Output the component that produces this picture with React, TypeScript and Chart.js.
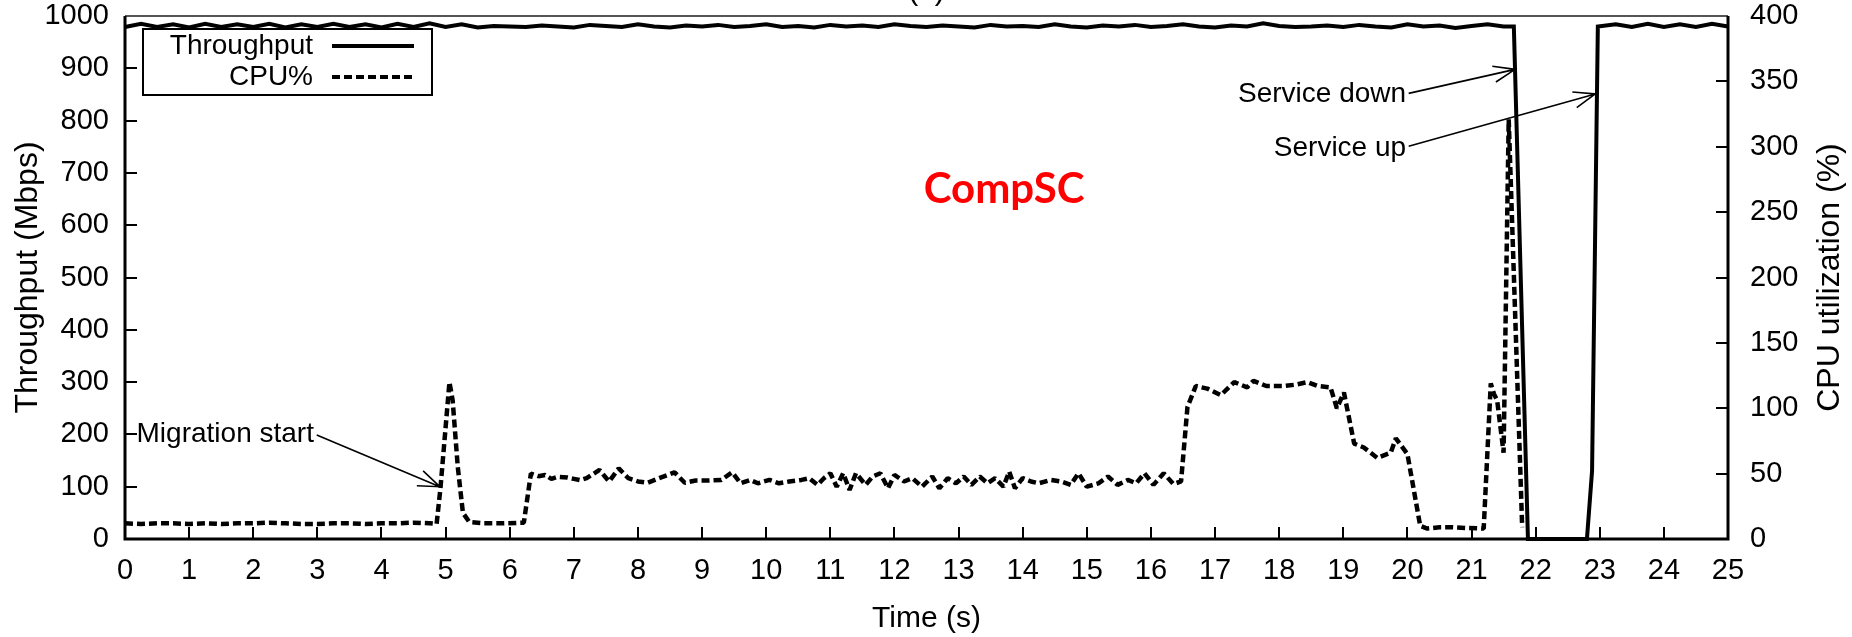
import React, { useEffect, useRef } from 'react';
import { Chart, registerables } from 'chart.js';

Chart.register(...registerables);

// ---- Data ----
const xTickValues = [0,1,2,3,4,5,6,7,8,9,10,11,12,13,14,15,16,17,18,19,20,21,22,23,24,25];
const yTickValues = [0,100,200,300,400,500,600,700,800,900,1000];
const y2TickValues = [0,50,100,150,200,250,300,350,400];

const throughputTimes = [
  0,0.25,0.5,0.75,1,1.25,1.5,1.75,
  2,2.25,2.5,2.75,3,3.25,3.5,3.75,
  4,4.25,4.5,4.75,5,5.25,5.5,5.75,
  6,6.25,6.5,6.75,7,7.25,7.5,7.75,
  8,8.25,8.5,8.75,9,9.25,9.5,9.75,
  10,10.25,10.5,10.75,11,11.25,11.5,11.75,
  12,12.25,12.5,12.75,13,13.25,13.5,13.75,
  14,14.25,14.5,14.75,15,15.25,15.5,15.75,
  16,16.25,16.5,16.75,17,17.25,17.5,17.75,
  18,18.25,18.5,18.75,19,19.25,19.5,19.75,
  20,20.25,20.5,20.75,21,21.25,21.5,
  21.66,21.88,22.8,22.88,22.97,
  23.25,23.5,23.75,24,24.25,24.5,24.75,25,
];
const throughputMbps = [
  979,985,979,984,978,985,979,984,
  979,985,978,984,979,985,979,984,
  978,985,979,986,979,984,978,981,
  980,979,982,980,978,983,981,979,
  984,980,978,982,980,983,979,981,
  984,979,981,978,983,980,982,979,
  984,981,979,982,980,978,983,980,
  981,979,984,980,978,982,980,983,
  979,981,984,980,978,982,980,986,
  981,979,980,982,979,983,980,978,
  984,980,982,977,981,984,980,
  980,0,0,130,980,
  984,979,985,979,984,979,985,980,
];

const cpuTimes = [
  0,0.25,0.5,0.75,1,1.25,1.5,1.75,2,2.25,2.5,2.75,3,3.25,3.5,3.75,4,4.25,4.5,4.75,4.86,
  4.92,5.06,5.11,5.19,5.27,5.37,5.6,5.9,6.22,6.33,
  6.45,6.55,6.65,6.75,6.9,7.0,7.1,7.2,7.4,7.55,7.7,7.85,8.0,8.15,8.33,8.57,8.73,8.9,
  9.1,9.3,9.47,9.6,9.75,9.87,10.05,10.2,10.36,10.55,10.67,10.8,10.9,11.0,11.1,11.2,
  11.3,11.4,11.55,11.66,11.78,11.9,12.0,12.15,12.28,12.43,12.59,12.7,12.83,12.96,
  13.08,13.2,13.33,13.45,13.57,13.7,13.79,13.88,14.0,14.13,14.25,14.44,14.6,14.75,
  14.87,15.0,15.18,15.33,15.48,15.64,15.77,15.9,16.04,16.2,16.35,16.47,
  16.57,16.7,16.88,17.09,17.3,17.5,17.6,17.8,18.08,18.25,18.44,18.6,18.8,18.9,19.01,
  19.17,19.32,19.53,19.74,19.82,20.0,20.2,20.31,20.5,20.68,20.9,21.19,
  21.3,21.35,21.4,21.5,21.58,21.79,
];
const cpuPercent = [
  12,11.5,12,12,11.5,12,11.5,12,12,12.5,12,11.5,11.5,12,12,11.5,12,12,12.5,12,11.5,
  39,120,106,55,20,13,12,12,12.5,50,
  48,49,46,47.5,47,46,45,46.5,52.8,44,54,46.5,44,43,46.5,51,43,44.7,
  44.7,45.2,51,42.6,45.2,42.6,45.2,42.6,44,45.2,46.5,41.4,46.5,50.3,40,50.3,
  37.5,50.3,41.4,47.8,50.3,38.8,49,44,46.5,40,47.8,38.8,46.5,42.6,
  47.8,41.4,47.8,42.6,46.5,40,51.6,38.8,46.5,44,42.6,45.2,44,41.4,
  50.3,40,42.6,47.8,41.4,45.2,42.6,50.3,41.4,50.3,42,44,
  101,117,115,110,120,116,121,117,117,118,120,117,116,100,112,
  73,70,62,66,77,65,10,8,9,9,8.5,8,
  119,111,106,66,321,9,
];

const legendLabels = ['Throughput', 'CPU%'];

// annotations in data coordinates [t, Mbps]
const migrationText = { t: 0.18, v: 200, text: 'Migration start' };
const migrationArrow = [2.99, 199, 4.91, 100];
const downText = { t: 19.98, v: 850, text: 'Service down' };
const downArrow = [20.02, 852, 21.68, 898];
const upText = { t: 19.98, v: 748, text: 'Service up' };
const upArrow = [20.02, 751, 22.93, 851];
const compscText = { t: 13.71, v: 669, text: 'CompSC' };
const captionText = { t: 12.5, text: '(a)' };

const FONT = "'Liberation Sans', Arial, sans-serif";

function drawArrow(ctx: CanvasRenderingContext2D, x1: number, y1: number, x2: number, y2: number) {
  const ang = Math.atan2(y2 - y1, x2 - x1);
  const len = 23;
  const spread = 0.36;
  ctx.beginPath();
  ctx.moveTo(x1, y1);
  ctx.lineTo(x2, y2);
  ctx.moveTo(x2 - len * Math.cos(ang - spread), y2 - len * Math.sin(ang - spread));
  ctx.lineTo(x2, y2);
  ctx.lineTo(x2 - len * Math.cos(ang + spread), y2 - len * Math.sin(ang + spread));
  ctx.stroke();
}

const overlayPlugin = {
  id: 'overlay',
  afterDraw(chart: any) {
    const { ctx, chartArea: a, scales } = chart;
    const xs = scales.x, ys = scales.y, y2s = scales.y2;
    const px = (t: number) => xs.getPixelForValue(t);
    const py = (v: number) => ys.getPixelForValue(v);
    ctx.save();
    ctx.strokeStyle = '#000';
    ctx.lineCap = 'butt';
    // inward ticks
    ctx.lineWidth = 2;
    ctx.beginPath();
    xTickValues.forEach((v) => {
      const x = Math.round(xs.getPixelForValue(v));
      ctx.moveTo(x, a.bottom);
      ctx.lineTo(x, a.bottom - 12);
    });
    yTickValues.forEach((v) => {
      const y = Math.round(ys.getPixelForValue(v));
      ctx.moveTo(a.left, y);
      ctx.lineTo(a.left + 12, y);
    });
    y2TickValues.forEach((v) => {
      const y = Math.round(y2s.getPixelForValue(v));
      ctx.moveTo(a.right, y);
      ctx.lineTo(a.right - 12, y);
    });
    ctx.stroke();
    // frame
    ctx.strokeStyle = '#555';
    ctx.lineWidth = 2;
    ctx.beginPath();
    ctx.moveTo(a.left, a.top);
    ctx.lineTo(a.right, a.top);
    ctx.stroke();
    ctx.strokeStyle = '#000';
    ctx.lineWidth = 3;
    ctx.beginPath();
    ctx.moveTo(a.right, a.top);
    ctx.lineTo(a.right, a.bottom);
    ctx.lineTo(a.left, a.bottom);
    ctx.lineTo(a.left, a.top);
    ctx.stroke();

    // legend
    const lx = a.left + 18, ly = a.top + 13, lw = 289, lh = 66;
    ctx.fillStyle = '#fff';
    ctx.fillRect(lx, ly, lw, lh);
    ctx.lineWidth = 2;
    ctx.strokeStyle = '#000';
    ctx.strokeRect(lx, ly, lw, lh);
    ctx.fillStyle = '#000';
    ctx.font = `28px ${FONT}`;
    ctx.textAlign = 'right';
    ctx.textBaseline = 'middle';
    const rows = [ly + 17, ly + 48];
    legendLabels.forEach((lab, i) => {
      ctx.fillText(lab, lx + 170, rows[i]);
      ctx.beginPath();
      ctx.lineWidth = 4;
      ctx.setLineDash(i === 0 ? [] : [8, 4]);
      ctx.moveTo(lx + 189, rows[i]);
      ctx.lineTo(lx + 271, rows[i]);
      ctx.stroke();
    });
    ctx.setLineDash([]);

    // annotations
    ctx.font = `28px ${FONT}`;
    ctx.textAlign = 'left';
    ctx.fillText(migrationText.text, px(migrationText.t), py(migrationText.v));
    ctx.textAlign = 'right';
    ctx.fillText(downText.text, px(downText.t), py(downText.v));
    ctx.fillText(upText.text, px(upText.t), py(upText.v));
    ctx.lineWidth = 1.6;
    [migrationArrow, downArrow, upArrow].forEach((ar) => {
      drawArrow(ctx, px(ar[0]), py(ar[1]), px(ar[2]), py(ar[3]));
    });

    // caption cut off at the top edge
    ctx.font = `30px ${FONT}`;
    ctx.textAlign = 'center';
    ctx.textBaseline = 'alphabetic';
    ctx.fillText(captionText.text, px(captionText.t), 0);

    // CompSC
    ctx.fillStyle = '#ff0000';
    ctx.font = `bold 42px Lato, 'Open Sans', sans-serif`;
    ctx.textAlign = 'center';
    ctx.textBaseline = 'middle';
    ctx.fillText(compscText.text, px(compscText.t), py(compscText.v));

    // right axis title (reads bottom to top)
    ctx.fillStyle = '#000';
    ctx.font = `32px ${FONT}`;
    ctx.translate(1830, (a.top + a.bottom) / 2);
    ctx.rotate(-Math.PI / 2);
    ctx.textAlign = 'center';
    ctx.textBaseline = 'middle';
    ctx.fillText('CPU utilization (%)', 0, 0);
    ctx.restore();
  },
};

export default function App() {
  const ref = useRef<HTMLCanvasElement | null>(null);
  useEffect(() => {
    document.body.style.margin = '0';
    const canvas = ref.current;
    if (!canvas) return;
    const tpData = throughputTimes.map((t, i) => ({ x: t, y: throughputMbps[i] }));
    const cpuData = cpuTimes.map((t, i) => ({ x: t, y: cpuPercent[i] }));
    const tickFont = { family: FONT, size: 29 };
    const titleFont = { family: FONT, size: 30 };
    const vTitleFont = { family: FONT, size: 32 };
    const plain = (v: any) => String(v);
    const chart = new Chart(canvas, {
      type: 'line',
      data: {
        datasets: [
          {
            label: 'CPU%',
            data: cpuData,
            yAxisID: 'y2',
            borderColor: '#000',
            borderWidth: 4.5,
            borderDash: [8, 4],
            pointRadius: 0,
            fill: false,
            tension: 0,
            borderJoinStyle: 'bevel',
          },
          {
            label: 'Throughput',
            data: tpData,
            yAxisID: 'y',
            borderColor: '#000',
            borderWidth: 4,
            pointRadius: 0,
            fill: false,
            tension: 0,
            borderJoinStyle: 'miter',
            clip: false,
          },
        ],
      },
      options: {
        responsive: false,
        animation: false,
        devicePixelRatio: 1,
        layout: { padding: { top: 16, left: 0, right: 0, bottom: 0 } },
        plugins: { legend: { display: false }, tooltip: { enabled: false } },
        scales: {
          x: {
            type: 'linear',
            min: 0,
            max: 25,
            grid: { display: false, drawTicks: false },
            border: { display: false },
            afterBuildTicks: (s: any) => { s.ticks = xTickValues.map((v) => ({ value: v })); },
            ticks: { font: tickFont, color: '#000', padding: 15, maxRotation: 0, autoSkip: false, callback: plain },
            title: { display: true, text: 'Time (s)', font: titleFont, color: '#000', padding: { top: 0, bottom: 0 } },
            afterFit: (s: any) => { s.height = 98; s.paddingLeft = 0; s.paddingRight = 0; },
          },
          y: {
            type: 'linear',
            position: 'left',
            min: 0,
            max: 1000,
            grid: { display: false, drawTicks: false },
            border: { display: false },
            afterBuildTicks: (s: any) => { s.ticks = yTickValues.map((v) => ({ value: v })); },
            ticks: { font: tickFont, color: '#000', padding: 16, callback: plain },
            title: { display: true, text: 'Throughput (Mbps)', font: vTitleFont, color: '#000', padding: { top: 9, bottom: 0 } },
            afterFit: (s: any) => { s.width = 125; s.paddingTop = 0; s.paddingBottom = 0; },
          },
          y2: {
            type: 'linear',
            position: 'right',
            min: 0,
            max: 400,
            grid: { display: false, drawTicks: false },
            border: { display: false },
            afterBuildTicks: (s: any) => { s.ticks = y2TickValues.map((v) => ({ value: v })); },
            ticks: { font: tickFont, color: '#000', padding: 22, callback: plain },
            title: { display: false },
            afterFit: (s: any) => { s.width = 124; s.paddingTop = 0; s.paddingBottom = 0; },
          },
        },
      },
      plugins: [overlayPlugin],
    } as any);
    return () => chart.destroy();
  }, []);
  return (
    <div style={{ width: 1852, height: 637, background: '#fff' }}>
      <canvas ref={ref} width={1852} height={637} style={{ display: 'block' }} />
    </div>
  );
}
